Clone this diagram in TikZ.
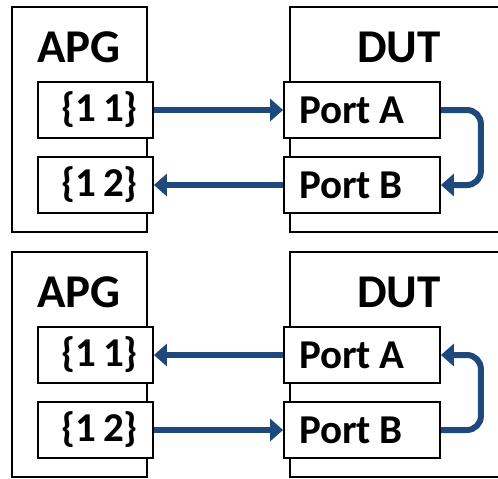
\documentclass[tikz,border=0pt]{standalone}
\usepackage{fontspec}
\setmainfont{Carlito}
\usetikzlibrary{arrows.meta}
\definecolor{linkblue}{RGB}{31,73,125}

\begin{document}
\begin{tikzpicture}[
        x=0.5pt, y=-0.5pt,
        frame/.style={draw, line width=0.9pt},
        title/.style={font=\fontsize{23.5}{25}\selectfont\bfseries, inner sep=0pt},
        slot/.style={draw, fill=white, line width=0.9pt, minimum width=57.5pt,
          minimum height=28pt, inner xsep=7.5pt, text width=42.5pt, align=right,
          font=\fontsize{20.5}{22}\selectfont\bfseries},
        port/.style={slot, minimum width=78pt, text width=63pt, align=left},
        link/.style={draw=linkblue, line width=3pt, rounded corners=7pt,
          -{Triangle[length=6.5pt, width=11pt]}}]
        % 页面范围
        \useasboundingbox (0,0) rectangle (498,478);
        % 上半部分
        \begin{scope}
          % 外框
          \draw[frame] (12,7) rectangle (147,232);
          \draw[frame] (498,7) -- (290,7) -- (290,232) -- (498,232);
          \node[title] (apgA) at (79,47) {APG};
          \node[title] (dutA) at (399,47) {DUT};
          % 端口
          \node[slot] (s11A) at (95.5,110) {\{1\hspace{0.17em}1\}};
          \node[slot] (s12A) at (95.5,185) {\{1\hspace{0.17em}2\}};
          \node[port] (paA) at (362,110) {Port\hspace{0.2em}A};
          \node[port] (pbA) at (362,185) {Port\hspace{0.2em}B};
          % 连线
          \draw[link] (s11A.east) -- (paA.west);
          \draw[link] (pbA.west) -- (s12A.east);
          \draw[link] (paA.east) -- ++(40,0) |- (pbA.east);
        \end{scope}
        % 下半部分
        \begin{scope}[shift={(0,245)}]
          % 外框
          \draw[frame] (12,7) rectangle (147,232);
          \draw[frame] (498,7) -- (290,7) -- (290,232) -- (498,232);
          \node[title] (apgB) at (79,47) {APG};
          \node[title] (dutB) at (399,47) {DUT};
          % 端口
          \node[slot] (s11B) at (95.5,110) {\{1\hspace{0.17em}1\}};
          \node[slot] (s12B) at (95.5,185) {\{1\hspace{0.17em}2\}};
          \node[port] (paB) at (362,110) {Port\hspace{0.2em}A};
          \node[port] (pbB) at (362,185) {Port\hspace{0.2em}B};
          % 连线
          \draw[link] (paB.west) -- (s11B.east);
          \draw[link] (s12B.east) -- (pbB.west);
          \draw[link] (pbB.east) -- ++(40,0) |- (paB.east);
        \end{scope}
      \end{tikzpicture}
\end{document}
